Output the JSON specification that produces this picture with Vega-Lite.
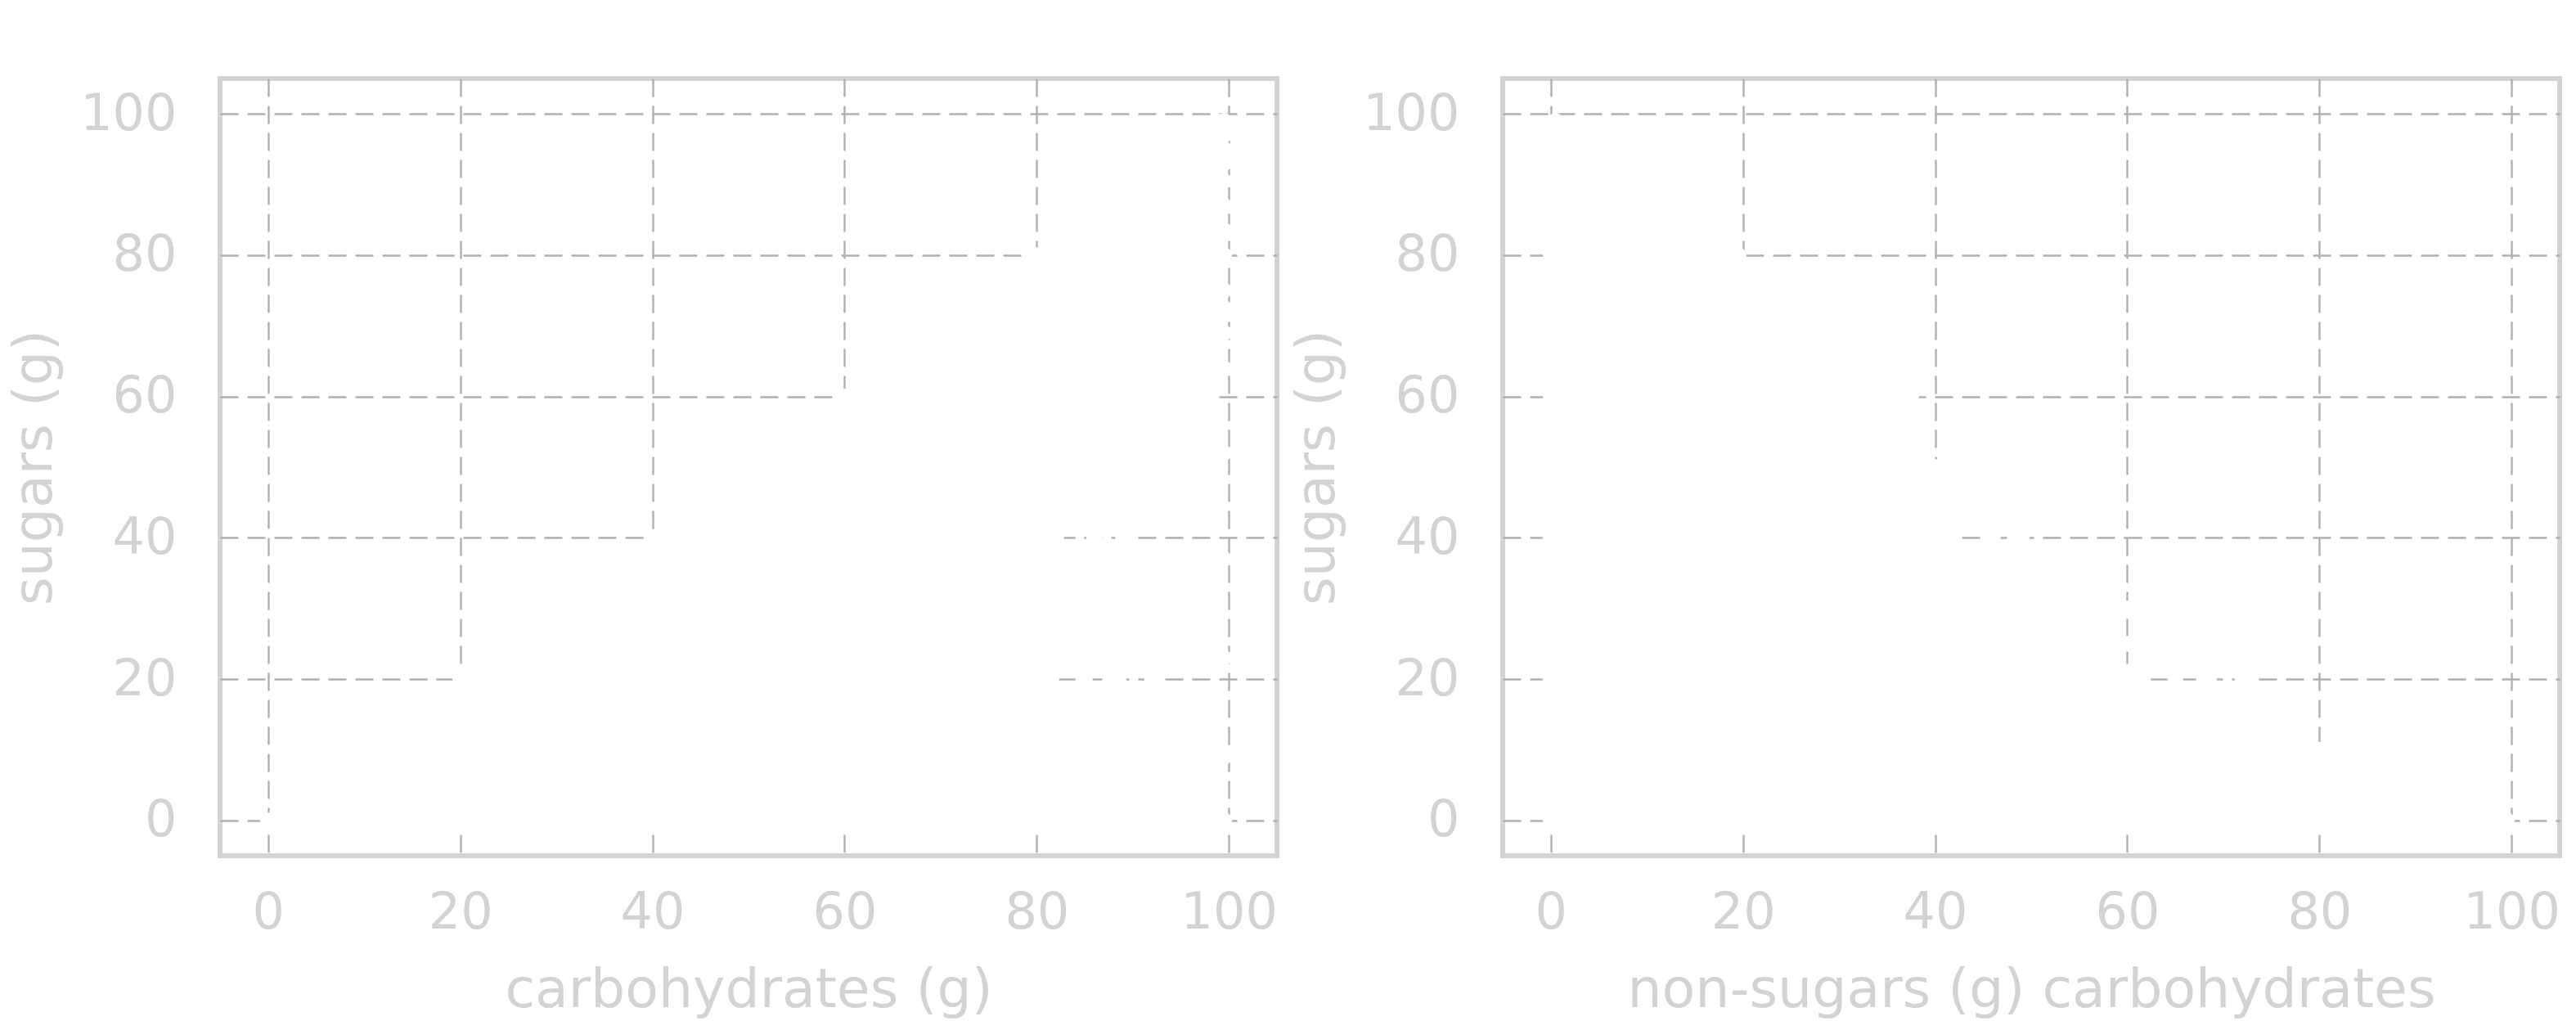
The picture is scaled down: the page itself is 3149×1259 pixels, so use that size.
{
"$schema": "https://vega.github.io/schema/vega-lite/v6.json",
"background": "white",
"padding": {"left": 6, "top": 93, "right": 0, "bottom": 0},
"config": {
"font": "DejaVu Sans",
"view": {"stroke": "#d3d3d3", "strokeWidth": 6, "fill": "white"},
"axis": {"grid": true, "gridColor": "#b0b0b0", "gridWidth": 2.4, "gridDash": [22, 11], "gridOpacity": 1, "domain": false, "ticks": false, "tickSize": 0, "labelFont": "DejaVu Sans", "labelFontSize": 62, "labelColor": "#d3d3d3", "titleFont": "DejaVu Sans", "titleFontSize": 66.5, "titleColor": "#d3d3d3", "titleFontWeight": "normal", "labelFlush": false, "labelOverlap": false},
"axisX": {"labelPadding": 39, "titlePadding": 31},
"axisY": {"labelPadding": 53, "titlePadding": 21}
},
"datasets": {"foods": [
{"c":0,"s":0,"n":0},{"c":1.5,"s":0,"n":1.5},{"c":3,"s":0,"n":3},{"c":4.5,"s":0,"n":4.5},{"c":6,"s":0,"n":6},{"c":7.5,"s":0,"n":7.5},{"c":9,"s":0,"n":9},{"c":10.5,"s":0,"n":10.5},{"c":12,"s":0,"n":12},{"c":13.5,"s":0,"n":13.5},{"c":15,"s":0,"n":15},{"c":16.5,"s":0,"n":16.5},{"c":18,"s":0,"n":18},{"c":19.5,"s":0,"n":19.5},{"c":21,"s":0,"n":21},{"c":22.5,"s":0,"n":22.5},{"c":24,"s":0,"n":24},{"c":25.5,"s":0,"n":25.5},{"c":27,"s":0,"n":27},{"c":28.5,"s":0,"n":28.5},{"c":30,"s":0,"n":30},{"c":31.5,"s":0,"n":31.5},{"c":33,"s":0,"n":33},{"c":34.5,"s":0,"n":34.5},{"c":36,"s":0,"n":36},{"c":37.5,"s":0,"n":37.5},{"c":39,"s":0,"n":39},{"c":40.5,"s":0,"n":40.5},{"c":42,"s":0,"n":42},{"c":43.5,"s":0,"n":43.5},{"c":45,"s":0,"n":45},{"c":46.5,"s":0,"n":46.5},{"c":48,"s":0,"n":48},{"c":49.5,"s":0,"n":49.5},{"c":51,"s":0,"n":51},{"c":52.5,"s":0,"n":52.5},{"c":54,"s":0,"n":54},{"c":55.5,"s":0,"n":55.5},{"c":57,"s":0,"n":57},{"c":58.5,"s":0,"n":58.5},{"c":60,"s":0,"n":60},{"c":61.5,"s":0,"n":61.5},{"c":63,"s":0,"n":63},{"c":64.5,"s":0,"n":64.5},{"c":66,"s":0,"n":66},{"c":67.5,"s":0,"n":67.5},{"c":69,"s":0,"n":69},{"c":70.5,"s":0,"n":70.5},{"c":72,"s":0,"n":72},{"c":73.5,"s":0,"n":73.5},{"c":75,"s":0,"n":75},{"c":76.5,"s":0,"n":76.5},{"c":78,"s":0,"n":78},{"c":79.5,"s":0,"n":79.5},{"c":81,"s":0,"n":81},{"c":82.5,"s":0,"n":82.5},{"c":84,"s":0,"n":84},{"c":85.5,"s":0,"n":85.5},{"c":87,"s":0,"n":87},{"c":88.5,"s":0,"n":88.5},{"c":90,"s":0,"n":90},{"c":91.5,"s":0,"n":91.5},{"c":93,"s":0,"n":93},{"c":94.5,"s":0,"n":94.5},{"c":96,"s":0,"n":96},{"c":97.5,"s":0,"n":97.5},{"c":98.5,"s":0,"n":98.5},{"c":99.5,"s":0,"n":99.5},
{"c":20,"s":20,"n":0},{"c":21.5,"s":20,"n":1.5},{"c":23,"s":20,"n":3},{"c":24.5,"s":20,"n":4.5},{"c":26,"s":20,"n":6},{"c":27.5,"s":20,"n":7.5},{"c":29,"s":20,"n":9},{"c":30.5,"s":20,"n":10.5},{"c":32,"s":20,"n":12},{"c":33.5,"s":20,"n":13.5},{"c":35,"s":20,"n":15},{"c":36.5,"s":20,"n":16.5},{"c":38,"s":20,"n":18},{"c":39.5,"s":20,"n":19.5},{"c":41,"s":20,"n":21},{"c":42.5,"s":20,"n":22.5},{"c":44,"s":20,"n":24},{"c":45.5,"s":20,"n":25.5},{"c":47,"s":20,"n":27},{"c":48.5,"s":20,"n":28.5},{"c":50,"s":20,"n":30},{"c":51.5,"s":20,"n":31.5},{"c":53,"s":20,"n":33},{"c":54.5,"s":20,"n":34.5},{"c":56,"s":20,"n":36},{"c":57.5,"s":20,"n":37.5},{"c":59,"s":20,"n":39},{"c":60.5,"s":20,"n":40.5},{"c":62,"s":20,"n":42},{"c":63.5,"s":20,"n":43.5},{"c":65,"s":20,"n":45},{"c":66.5,"s":20,"n":46.5},{"c":68,"s":20,"n":48},{"c":69.5,"s":20,"n":49.5},{"c":71,"s":20,"n":51},{"c":72.5,"s":20,"n":52.5},{"c":74,"s":20,"n":54},{"c":75.5,"s":20,"n":55.5},{"c":77,"s":20,"n":57},{"c":78.5,"s":20,"n":58.5},{"c":80,"s":20,"n":60},{"c":81.5,"s":20,"n":61.5},{"c":85,"s":20,"n":65},{"c":88.5,"s":20,"n":68.5},{"c":92,"s":20,"n":72},
{"c":40,"s":40,"n":0},{"c":41.5,"s":40,"n":1.5},{"c":43,"s":40,"n":3},{"c":44.5,"s":40,"n":4.5},{"c":46,"s":40,"n":6},{"c":47.5,"s":40,"n":7.5},{"c":49,"s":40,"n":9},{"c":50.5,"s":40,"n":10.5},{"c":52,"s":40,"n":12},{"c":53.5,"s":40,"n":13.5},{"c":55,"s":40,"n":15},{"c":56.5,"s":40,"n":16.5},{"c":58,"s":40,"n":18},{"c":59.5,"s":40,"n":19.5},{"c":61,"s":40,"n":21},{"c":62.5,"s":40,"n":22.5},{"c":64,"s":40,"n":24},{"c":65.5,"s":40,"n":25.5},{"c":67,"s":40,"n":27},{"c":68.5,"s":40,"n":28.5},{"c":70,"s":40,"n":30},{"c":71.5,"s":40,"n":31.5},{"c":73,"s":40,"n":33},{"c":74.5,"s":40,"n":34.5},{"c":76,"s":40,"n":36},{"c":77.5,"s":40,"n":37.5},{"c":79,"s":40,"n":39},{"c":80.5,"s":40,"n":40.5},{"c":82,"s":40,"n":42},{"c":86,"s":40,"n":46},{"c":89,"s":40,"n":49},
{"c":60,"s":60,"n":0},{"c":61.5,"s":60,"n":1.5},{"c":63,"s":60,"n":3},{"c":64.5,"s":60,"n":4.5},{"c":66,"s":60,"n":6},{"c":67.5,"s":60,"n":7.5},{"c":69,"s":60,"n":9},{"c":70.5,"s":60,"n":10.5},{"c":72,"s":60,"n":12},{"c":73.5,"s":60,"n":13.5},{"c":75,"s":60,"n":15},{"c":76.5,"s":60,"n":16.5},{"c":78,"s":60,"n":18},{"c":79.5,"s":60,"n":19.5},{"c":81,"s":60,"n":21},{"c":82.5,"s":60,"n":22.5},{"c":84,"s":60,"n":24},{"c":85.5,"s":60,"n":25.5},{"c":87,"s":60,"n":27},{"c":88.5,"s":60,"n":28.5},{"c":90,"s":60,"n":30},{"c":91.5,"s":60,"n":31.5},{"c":93,"s":60,"n":33},{"c":94.5,"s":60,"n":34.5},{"c":96,"s":60,"n":36},{"c":97.5,"s":60,"n":37.5},
{"c":80,"s":80,"n":0},{"c":81.5,"s":80,"n":1.5},{"c":83,"s":80,"n":3},{"c":84.5,"s":80,"n":4.5},{"c":86,"s":80,"n":6},{"c":87.5,"s":80,"n":7.5},{"c":89,"s":80,"n":9},{"c":90.5,"s":80,"n":10.5},{"c":92,"s":80,"n":12},{"c":93.5,"s":80,"n":13.5},{"c":95,"s":80,"n":15},{"c":96.5,"s":80,"n":16.5},{"c":98,"s":80,"n":18},{"c":99.5,"s":80,"n":19.5},
{"c":20,"s":0,"n":20},{"c":20,"s":2,"n":18},{"c":20,"s":4,"n":16},{"c":20,"s":6,"n":14},{"c":20,"s":8,"n":12},{"c":20,"s":10,"n":10},{"c":20,"s":12,"n":8},{"c":20,"s":14,"n":6},{"c":20,"s":16,"n":4},{"c":20,"s":18,"n":2},
{"c":40,"s":0,"n":40},{"c":40,"s":2,"n":38},{"c":40,"s":4,"n":36},{"c":40,"s":6,"n":34},{"c":40,"s":8,"n":32},{"c":40,"s":10,"n":30},{"c":40,"s":12,"n":28},{"c":40,"s":14,"n":26},{"c":40,"s":16,"n":24},{"c":40,"s":18,"n":22},{"c":40,"s":20,"n":20},{"c":40,"s":22,"n":18},{"c":40,"s":24,"n":16},{"c":40,"s":26,"n":14},{"c":40,"s":28,"n":12},{"c":40,"s":30,"n":10},{"c":40,"s":32,"n":8},{"c":40,"s":34,"n":6},{"c":40,"s":36,"n":4},{"c":40,"s":38,"n":2},
{"c":60,"s":2,"n":58},{"c":60,"s":4,"n":56},{"c":60,"s":6,"n":54},{"c":60,"s":8,"n":52},{"c":60,"s":10,"n":50},{"c":60,"s":12,"n":48},{"c":60,"s":14,"n":46},{"c":60,"s":16,"n":44},{"c":60,"s":18,"n":42},{"c":60,"s":20,"n":40},{"c":60,"s":22,"n":38},{"c":60,"s":24,"n":36},{"c":60,"s":26,"n":34},{"c":60,"s":28,"n":32},{"c":60,"s":30,"n":30},{"c":60,"s":32,"n":28},{"c":60,"s":34,"n":26},{"c":60,"s":36,"n":24},{"c":60,"s":38,"n":22},{"c":60,"s":40,"n":20},{"c":60,"s":42,"n":18},{"c":60,"s":44,"n":16},{"c":60,"s":46,"n":14},{"c":60,"s":48,"n":12},{"c":60,"s":50,"n":10},{"c":60,"s":52,"n":8},{"c":60,"s":54,"n":6},{"c":60,"s":56,"n":4},{"c":60,"s":58,"n":2},
{"c":80,"s":0,"n":80},{"c":80,"s":2,"n":78},{"c":80,"s":4,"n":76},{"c":80,"s":6,"n":74},{"c":80,"s":8,"n":72},{"c":80,"s":10,"n":70},{"c":80,"s":12,"n":68},{"c":80,"s":14,"n":66},{"c":80,"s":16,"n":64},{"c":80,"s":18,"n":62},{"c":80,"s":22,"n":58},{"c":80,"s":24,"n":56},{"c":80,"s":26,"n":54},{"c":80,"s":28,"n":52},{"c":80,"s":30,"n":50},{"c":80,"s":32,"n":48},{"c":80,"s":34,"n":46},{"c":80,"s":36,"n":44},{"c":80,"s":38,"n":42},{"c":80,"s":40,"n":40},{"c":80,"s":42,"n":38},{"c":80,"s":44,"n":36},{"c":80,"s":46,"n":34},{"c":80,"s":48,"n":32},{"c":80,"s":50,"n":30},{"c":80,"s":52,"n":28},{"c":80,"s":54,"n":26},{"c":80,"s":56,"n":24},{"c":80,"s":58,"n":22},{"c":80,"s":60,"n":20},{"c":80,"s":62,"n":18},{"c":80,"s":64,"n":16},{"c":80,"s":66,"n":14},{"c":80,"s":68,"n":12},{"c":80,"s":70,"n":10},{"c":80,"s":72,"n":8},{"c":80,"s":74,"n":6},{"c":80,"s":76,"n":4},{"c":80,"s":78,"n":2},
{"c":99.5,"s":99,"n":0.5},{"c":99.5,"s":97,"n":2.5},{"c":99.5,"s":95,"n":4.5},{"c":99.5,"s":93,"n":6.5},{"c":99.5,"s":90.5,"n":9},{"c":99.5,"s":87,"n":12.5},{"c":99.5,"s":83.5,"n":16},{"c":99.5,"s":75,"n":24.5},{"c":99.5,"s":72.5,"n":27},{"c":99.5,"s":69,"n":30.5},{"c":99.5,"s":64,"n":35.5},{"c":99.5,"s":52,"n":47.5},{"c":99.5,"s":37,"n":62.5},{"c":99.5,"s":23,"n":76.5},{"c":99.5,"s":9,"n":90.5},
{"c":2,"s":2,"n":0},{"c":4,"s":4,"n":0},{"c":6,"s":6,"n":0},{"c":8,"s":8,"n":0},{"c":10,"s":10,"n":0},{"c":12,"s":12,"n":0},{"c":14,"s":14,"n":0},{"c":16,"s":16,"n":0},{"c":18,"s":18,"n":0},{"c":22,"s":22,"n":0},{"c":24,"s":24,"n":0},{"c":26,"s":26,"n":0},{"c":28,"s":28,"n":0},{"c":30,"s":30,"n":0},{"c":32,"s":32,"n":0},{"c":34,"s":34,"n":0},{"c":36,"s":36,"n":0},{"c":38,"s":38,"n":0},{"c":42,"s":42,"n":0},{"c":44,"s":44,"n":0},{"c":46,"s":46,"n":0},{"c":48,"s":48,"n":0},{"c":50,"s":50,"n":0},{"c":52,"s":52,"n":0},{"c":54,"s":54,"n":0},{"c":56,"s":56,"n":0},{"c":58,"s":58,"n":0},{"c":62,"s":62,"n":0},{"c":64,"s":64,"n":0},{"c":66,"s":66,"n":0},{"c":68,"s":68,"n":0},{"c":70,"s":70,"n":0},{"c":72,"s":72,"n":0},{"c":74,"s":74,"n":0},{"c":76,"s":76,"n":0},{"c":78,"s":78,"n":0},{"c":82,"s":82,"n":0},{"c":84,"s":84,"n":0},{"c":86,"s":86,"n":0},{"c":88,"s":88,"n":0},{"c":90,"s":90,"n":0},{"c":92,"s":92,"n":0},{"c":94,"s":94,"n":0},{"c":96,"s":96,"n":0},{"c":98,"s":98,"n":0},
{"c":22,"s":2,"n":20},{"c":24,"s":4,"n":20},{"c":26,"s":6,"n":20},{"c":28,"s":8,"n":20},{"c":30,"s":10,"n":20},{"c":32,"s":12,"n":20},{"c":34,"s":14,"n":20},{"c":36,"s":16,"n":20},{"c":38,"s":18,"n":20},{"c":42,"s":22,"n":20},{"c":44,"s":24,"n":20},{"c":46,"s":26,"n":20},{"c":48,"s":28,"n":20},{"c":50,"s":30,"n":20},{"c":52,"s":32,"n":20},{"c":54,"s":34,"n":20},{"c":56,"s":36,"n":20},{"c":58,"s":38,"n":20},{"c":62,"s":42,"n":20},{"c":64,"s":44,"n":20},{"c":66,"s":46,"n":20},{"c":68,"s":48,"n":20},{"c":70,"s":50,"n":20},{"c":72,"s":52,"n":20},{"c":74,"s":54,"n":20},{"c":76,"s":56,"n":20},{"c":78,"s":58,"n":20},{"c":82,"s":62,"n":20},{"c":84,"s":64,"n":20},{"c":86,"s":66,"n":20},{"c":88,"s":68,"n":20},{"c":90,"s":70,"n":20},{"c":92,"s":72,"n":20},{"c":94,"s":74,"n":20},{"c":96,"s":76,"n":20},{"c":98,"s":78,"n":20},
{"c":42,"s":2,"n":40},{"c":44,"s":4,"n":40},{"c":46,"s":6,"n":40},{"c":48,"s":8,"n":40},{"c":50,"s":10,"n":40},{"c":52,"s":12,"n":40},{"c":54,"s":14,"n":40},{"c":56,"s":16,"n":40},{"c":58,"s":18,"n":40},{"c":62,"s":22,"n":40},{"c":64,"s":24,"n":40},{"c":66,"s":26,"n":40},{"c":68,"s":28,"n":40},{"c":70,"s":30,"n":40},{"c":72,"s":32,"n":40},{"c":74,"s":34,"n":40},{"c":76,"s":36,"n":40},{"c":78,"s":38,"n":40},{"c":82,"s":42,"n":40},{"c":84,"s":44,"n":40},{"c":86,"s":46,"n":40},{"c":88,"s":48,"n":40},{"c":90,"s":50,"n":40},
{"c":62,"s":2,"n":60},{"c":64,"s":4,"n":60},{"c":66,"s":6,"n":60},{"c":68,"s":8,"n":60},{"c":70,"s":10,"n":60},{"c":72,"s":12,"n":60},{"c":74,"s":14,"n":60},{"c":76,"s":16,"n":60},{"c":78,"s":18,"n":60},{"c":85,"s":25,"n":60},{"c":90,"s":30,"n":60},
{"c":82,"s":2,"n":80},{"c":84,"s":4,"n":80},{"c":86,"s":6,"n":80},{"c":88,"s":8,"n":80},{"c":90,"s":10,"n":80}
]},
"data": {"name": "foods"},
"spacing": 276,
"bounds": "flush",
"hconcat": [
{
"width": 1292, "height": 950,
"mark": {"type": "circle", "size": 380, "color": "white", "opacity": 1, "fillOpacity": 1, "strokeWidth": 0},
"encoding": {
"x": {"field": "c", "type": "quantitative", "scale": {"domain": [-5, 105], "nice": false, "zero": false}, "axis": {"values": [0, 20, 40, 60, 80, 100], "title": "carbohydrates (g)"}},
"y": {"field": "s", "type": "quantitative", "scale": {"domain": [-5, 105], "nice": false, "zero": false}, "axis": {"values": [0, 20, 40, 60, 80, 100], "title": "sugars (g)"}}
}
},
{
"width": 1292, "height": 950,
"mark": {"type": "circle", "size": 380, "color": "white", "opacity": 1, "fillOpacity": 1, "strokeWidth": 0},
"encoding": {
"x": {"field": "n", "type": "quantitative", "scale": {"domain": [-5, 105], "nice": false, "zero": false}, "axis": {"values": [0, 20, 40, 60, 80, 100], "title": "non-sugars (g) carbohydrates"}},
"y": {"field": "s", "type": "quantitative", "scale": {"domain": [-5, 105], "nice": false, "zero": false}, "axis": {"values": [0, 20, 40, 60, 80, 100], "title": "sugars (g)"}}
}
}
]
}
